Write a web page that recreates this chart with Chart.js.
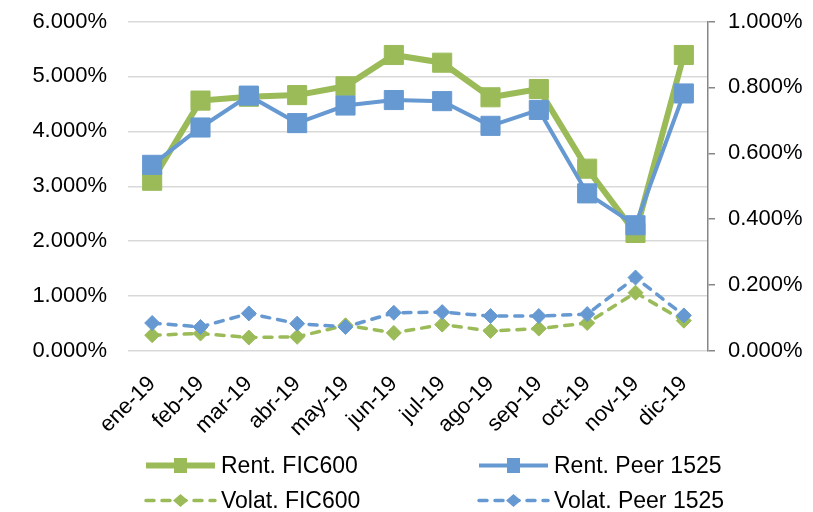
<!doctype html>
<html lang="es">
<head>
    <meta charset="utf-8">
    <title>Rentabilidad y volatilidad 2019</title>
    <script src="https://cdn.jsdelivr.net/npm/chart.js@4.4.1/dist/chart.umd.min.js"></script>
    <style>
        body { margin: 0; background: #fff; }
        #wrap { position: relative; width: 813px; height: 512px; font-family: "Liberation Sans", Arial, sans-serif; }
        #chart { position: absolute; left: 0; top: 0; }
        .leg { position: absolute; display: flex; align-items: center; height: 30px; font-size: 23px; color: #000; white-space: nowrap; }
        .leg svg { margin-right: 3px; }
    </style>
    <script type="text/javascript">
        // meses
        const months = ['ene-19', 'feb-19', 'mar-19', 'abr-19', 'may-19', 'jun-19',
                        'jul-19', 'ago-19', 'sep-19', 'oct-19', 'nov-19', 'dic-19'];

        // rentabilidad (%), eje izquierdo
        const rentFic = [3.10, 4.56, 4.63, 4.66, 4.82, 5.39, 5.25, 4.62, 4.77, 3.32, 2.15, 5.39];
        const rentPeer = [3.39, 4.07, 4.65, 4.15, 4.47, 4.57, 4.55, 4.10, 4.39, 2.87, 2.29, 4.69];

        // volatilidad (%), eje derecho
        const volFic = [0.048, 0.053, 0.041, 0.043, 0.078, 0.055, 0.080, 0.061, 0.068, 0.085, 0.177, 0.092];
        const volPeer = [0.085, 0.073, 0.114, 0.083, 0.073, 0.116, 0.118, 0.106, 0.106, 0.112, 0.223, 0.108];

        const seriesNames = ['Rent. FIC600', 'Rent. Peer 1525', 'Volat. FIC600', 'Volat. Peer 1525'];

        const GREEN = '#9BBB59';
        const BLUE = '#6699D1';
        const FONT = '"Liberation Sans", Arial, sans-serif';

        const pct = (v) => v.toFixed(3) + '%';

        // ancho fijo del eje y sin margen extra arriba/abajo
        const fixAxis = (w) => (axis) => {
          axis.width = w;
          axis.paddingTop = 0;
          axis.paddingBottom = 0;
        };

        // muestra de línea + marcador para la leyenda
        const legendSample = (ds) => {
          const dash = ds.borderDash && ds.borderDash.length ? ` stroke-dasharray="${ds.borderDash.join(' ')}" stroke-linecap="round"` : '';
          let mark;
          if (ds.pointStyle === 'rect') {
            mark = `<rect x="31" y="3" width="13" height="15" fill="${ds.borderColor}"/>`;
          } else {
            mark = `<polygon points="37.5,4 45,10.5 37.5,17 30,10.5" fill="${ds.borderColor}"/>`;
          }
          return `<svg width="75" height="21" viewBox="0 0 75 21">` +
                 `<line x1="3" y1="10.5" x2="72" y2="10.5" stroke="${ds.borderColor}" stroke-width="${ds.legendWidth}"${dash}/>` +
                 mark + `</svg>`;
        };

        const makeLegend = (chart) => {
          const box = document.getElementById('legend');
          const cols = [143, 476];
          const rows = [450, 485];
          chart.data.datasets.forEach((ds, i) => {
            const el = document.createElement('div');
            el.className = 'leg';
            el.style.left = cols[i % 2] + 'px';
            el.style.top = rows[Math.floor(i / 2)] + 'px';
            el.innerHTML = legendSample(ds) + '<span>' + ds.label + '</span>';
            box.appendChild(el);
          });
        };

        const makeChart = () => {
          const ctx = document.getElementById('chart');

          Chart.defaults.font.family = FONT;
          Chart.defaults.color = '#000';

          const chart = new Chart(ctx, {
            type: 'line',
            data: {
              labels: months,
              datasets: [
                {
                  label: seriesNames[0], data: rentFic, yAxisID: 'y',
                  borderColor: GREEN, backgroundColor: GREEN, borderWidth: 6, legendWidth: 6,
                  pointStyle: 'rect', pointRadius: 13.5, pointBorderWidth: 1, order: 2
                },
                {
                  label: seriesNames[1], data: rentPeer, yAxisID: 'y',
                  borderColor: BLUE, backgroundColor: BLUE, borderWidth: 4, legendWidth: 4,
                  pointStyle: 'rect', pointRadius: 13.5, pointBorderWidth: 1, order: 1
                },
                {
                  label: seriesNames[2], data: volFic, yAxisID: 'y1',
                  borderColor: GREEN, backgroundColor: GREEN, borderWidth: 3.5, legendWidth: 3.5,
                  borderDash: [8, 8], borderCapStyle: 'round',
                  pointStyle: 'rectRot', pointRadius: 7.5, pointBorderWidth: 1, order: 4
                },
                {
                  label: seriesNames[3], data: volPeer, yAxisID: 'y1',
                  borderColor: BLUE, backgroundColor: BLUE, borderWidth: 3.5, legendWidth: 3.5,
                  borderDash: [8, 8], borderCapStyle: 'round',
                  pointStyle: 'rectRot', pointRadius: 7.5, pointBorderWidth: 1, order: 3
                }
              ]
            },
            options: {
              responsive: false,
              animation: false,
              layout: { padding: { top: 21.5, left: 0, right: 0, bottom: 70 } },
              plugins: {
                legend: { display: false },
                tooltip: { enabled: false }
              },
              scales: {
                x: {
                  offset: true,
                  grid: { display: false },
                  border: { display: false },
                  ticks: {
                    font: { size: 22 },
                    minRotation: 45, maxRotation: 45,
                    padding: 12, autoSkip: false
                  },
                  afterFit: (axis) => { axis.height = 512 - 70 - 351; }
                },
                y: {
                  position: 'left',
                  min: 0, max: 6,
                  grid: { color: '#D9D9D9', lineWidth: 1.5, drawTicks: false },
                  border: { display: false },
                  ticks: { stepSize: 1, font: { size: 22 }, padding: 21, callback: pct },
                  afterFit: fixAxis(128)
                },
                y1: {
                  position: 'right',
                  min: 0, max: 1,
                  grid: { drawOnChartArea: false, color: '#868686', lineWidth: 1.5, tickLength: 7 },
                  border: { display: true, color: '#868686', width: 1.5 },
                  ticks: { stepSize: 0.2, font: { size: 22 }, padding: 13, callback: pct },
                  afterFit: fixAxis(813 - 708)
                }
              }
            }
          });

          makeLegend(chart);
        };

        window.onload = makeChart;
    </script>
</head>
<body>
    <div id="wrap">
        <canvas id="chart" width="813" height="512"></canvas>
        <div id="legend"></div>
    </div>
</body>
</html>
